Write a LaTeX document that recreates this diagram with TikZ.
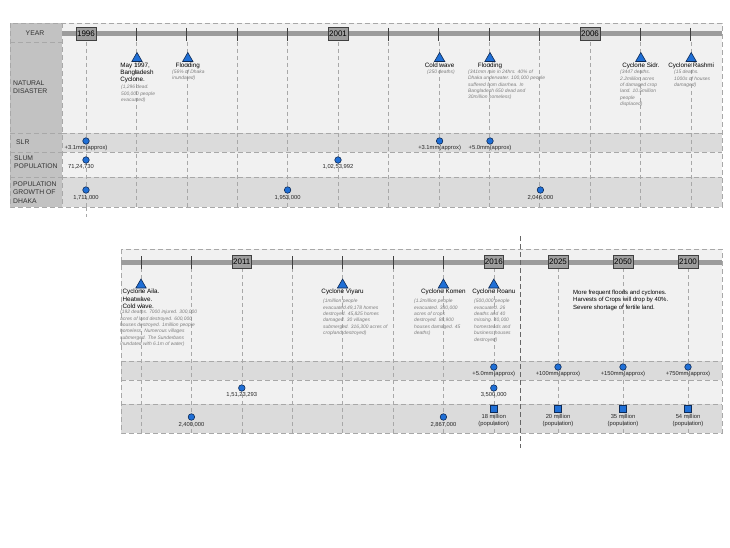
\documentclass[tikz,border=0pt]{standalone}
\usepackage{fontspec}
\setmainfont{Liberation Sans}
\usetikzlibrary{shapes.geometric,positioning}
\definecolor{labelgray}{HTML}{C2C2C2}
\definecolor{bandlight}{HTML}{F1F1F1}
\definecolor{banddark}{HTML}{DBDBDB}
\definecolor{linegray}{HTML}{A8A8A8}
\definecolor{bargray}{HTML}{9C9C9C}
\definecolor{markblue}{HTML}{1F6FD6}
\definecolor{markedge}{HTML}{0E2A55}
\definecolor{descgray}{HTML}{7E7E7E}
\tikzset{gridline/.style={linegray,dash pattern=on 4pt off 3pt,line width=0.5pt},
    cellline/.style={linegray,dash pattern=on 5pt off 3pt,line width=0.8pt},
    yearbox/.style={draw=black!75,fill=black!38,line width=0.8pt,inner sep=1pt,
        minimum height=13pt,font=\fontsize{8}{8}\selectfont},
    rowlabel/.style={align=left,anchor=west,inner sep=0pt,text=black!80,
        font=\fontsize{6.8}{8.6}\selectfont},
    eventmark/.style={regular polygon,regular polygon sides=3,draw=markedge,fill=markblue,
        minimum size=12pt,inner sep=0pt,line width=0.6pt},
    eventtitle/.style={align=left,inner sep=0pt,font=\fontsize{6.3}{7.3}\selectfont},
    eventdesc/.style={align=left,anchor=north west,inner sep=0pt,text=descgray,
        font=\fontsize{4.9}{6.4}\selectfont\itshape},
    datadot/.style={circle,draw=markedge,fill=markblue,minimum size=6.5pt,inner sep=0pt,line width=0.6pt},
    datasq/.style={rectangle,draw=markedge,fill=markblue,minimum size=6.5pt,inner sep=0pt,line width=0.6pt},
    datalabel/.style={align=center,anchor=north,inner sep=0pt,text=black!85,
        font=\fontsize{5.8}{7}\selectfont},
    }
\begin{document}
\begin{tikzpicture}[x=1pt,y=-1pt]
\useasboundingbox (0,0) rectangle (730,548);
% upper panel: 1996--2008
\fill[bandlight] (62,23) rectangle (722,133);
\fill[banddark] (62,133) rectangle (722,152);
\fill[bandlight] (62,152) rectangle (722,177);
\fill[banddark] (62,177) rectangle (722,207);
\fill[labelgray] (10,23) rectangle (62,207);
\foreach \i in {0,...,12} \draw[gridline] ({86+50.4*\i},42) -- ++(0,165);
\draw[gridline] (86,207) -- ++(0,10);
\foreach \y in {42,133,152,177} \draw[cellline] (10,\y) -- (62,\y);
\foreach \y in {133,152,177} \draw[cellline] (62,\y) -- (722,\y);
\draw[cellline] (62,23) -- (62,207);
\draw[cellline] (10,23) rectangle (722,207);
\fill[bargray] (62,31.5) rectangle (722,36.5);
\foreach \i in {1,2,3,4,6,7,8,9,11,12} \draw[black!75,line width=0.7pt] ({86+50.4*\i},28) -- ++(0,13);
\node[yearbox] (y1996) at (86,34) {1996};
\node[yearbox] (y2001) at (338,34) {2001};
\node[yearbox] (y2006) at (590,34) {2006};
% row labels
\node[rowlabel,anchor=center] (lyear) at (35,33) {YEAR};
\node[rowlabel] (lnat) at (13,87) {NATURAL\\DISASTER};
\node[rowlabel] (lslr) at (16,142) {SLR};
\node[rowlabel] (lslum) at (14,162) {SLUM\\POPULATION};
\node[rowlabel] (lpop) at (13,192.5) {POPULATION\\GROWTH OF\\DHAKA};
% natural disasters
\node[eventmark] (m1997) at (137,58.5) {};
\node[eventtitle,below=0.8pt of m1997] (t1997) {May 1997,\\Bangladesh\\Cyclone.};
\node[eventdesc] (d1997) at (121,85) {(1,296 dead.\\500,000 people\\evacuated)};
\node[eventmark] (m1998) at (187.8,58.5) {};
\node[eventtitle,below=0.8pt of m1998] (t1998) {Flooding};
\node[eventdesc] (d1998) at (172,69.5) {(56\% of Dhaka\\inundated)};
\node[eventmark] (m2003) at (439.6,58.5) {};
\node[eventtitle,below=0.8pt of m2003] (t2003) {Cold wave};
\node[eventdesc] (d2003) at (427,69.5) {(250 deaths)};
\node[eventmark] (m2004) at (490,58.5) {};
\node[eventtitle,below=0.8pt of m2004] (t2004) {Flooding};
\node[eventdesc] (d2004) at (468,69.5) {(341mm rain in 24hrs. 40\% of\\Dhaka underwater. 100,000 people\\suffered from diarrhea. In\\Bangladesh 650 dead and\\30million homeless)};
\node[eventmark] (m2007) at (640.8,58.5) {};
\node[eventtitle,below=0.8pt of m2007] (t2007) {Cyclone Sidr.};
\node[eventdesc] (d2007) at (620,70) {(3447 deaths.\\2.2million acres\\of damaged crop\\land. 10.5million\\people\\displaced)};
\node[eventmark] (m2008) at (691.2,58.5) {};
\node[eventtitle,below=0.8pt of m2008] (t2008) {Cyclone Rashmi};
\node[eventdesc] (d2008) at (674,70) {(15 deaths.\\1000s of houses\\damaged)};
% sea level rise, slums, population
\node[datadot] (s1996) at (86,141) {};
\node[datalabel,below=1pt of s1996] {+3.1mm(approx)};
\node[datadot] (s2003) at (439.6,141) {};
\node[datalabel,below=1pt of s2003] {+3.1mm(approx)};
\node[datadot] (s2004) at (490,141) {};
\node[datalabel,below=1pt of s2004] {+5.0mm(approx)};
\node[datadot] (u1996) at (86,160) {};
\node[datalabel,below=0.5pt of u1996,xshift=-5pt] {71,24,730};
\node[datadot] (u2001) at (338,160) {};
\node[datalabel,below=0.5pt of u2001] {1,02,53,992};
\node[datadot] (p1996) at (86,190) {};
\node[datalabel,below=2pt of p1996] {1,711,000};
\node[datadot] (p2000) at (287.6,190) {};
\node[datalabel,below=2pt of p2000] {1,953,000};
\node[datadot] (p2005) at (540.4,190) {};
\node[datalabel,below=2pt of p2005] {2,046,000};

% lower panel: 2009--2100
\fill[bandlight] (121,249) rectangle (722,361);
\fill[banddark] (121,361) rectangle (722,380);
\fill[bandlight] (121,380) rectangle (722,404);
\fill[banddark] (121,404) rectangle (722,433);
\foreach \x in {141,191.4,241.8,292.2,342.6,393,443.4,493.8,558,623,688}
    \draw[gridline] (\x,268) -- (\x,433);
\foreach \y in {361,380,404} \draw[cellline] (121,\y) -- (722,\y);
\draw[cellline] (121,249) rectangle (722,433);
\fill[bargray] (121,259.5) rectangle (722,264.5);
\foreach \x in {141,191.4,292.2,342.6,393,443.4} \draw[black!75,line width=0.7pt] (\x,256) -- ++(0,13);
\node[yearbox] (y2011) at (241.8,262) {2011};
\node[yearbox] (y2016) at (493.8,262) {2016};
\node[yearbox] (y2025) at (558,262) {2025};
\node[yearbox] (y2050) at (623,262) {2050};
\node[yearbox] (y2100) at (688,262) {2100};
\coordinate (divtop) at (520,236);
\coordinate (divbot) at (520,448);
\draw[black!60,dash pattern=on 5pt off 3pt,line width=0.7pt] (divtop) -- (divbot);
% natural disasters
\node[eventmark] (m2009) at (141,285) {};
\node[eventtitle,below=0.8pt of m2009] (t2009) {Cyclone Aila.\\Heatwave.\\Cold wave.};
\node[eventdesc] (d2009) at (120,310) {(192 deaths. 7000 injured. 300,000\\acres of land destroyed. 600,000\\houses destroyed. 1million people\\homeless. Numerous villages\\submerged. The Sunderbans\\inundated with 6.1m of water)};
\node[eventmark] (m2013) at (342.6,285) {};
\node[eventtitle,below=0.8pt of m2013] (t2013) {Cyclone Viyaru};
\node[eventdesc] (d2013) at (323,299) {(1million people\\evacuated.49,178 homes\\destroyed. 45,825 homes\\damaged. 30 villages\\submerged. 316,300 acres of\\cropland destroyed)};
\node[eventmark] (m2015) at (443.4,285) {};
\node[eventtitle,below=0.8pt of m2015] (t2015) {Cyclone Komen};
\node[eventdesc] (d2015) at (414,299) {(1.2million people\\evacuated. 380,000\\acres of crops\\destroyed. 88,900\\houses damaged. 45\\deaths)};
\node[eventmark] (m2016) at (493.8,285) {};
\node[eventtitle,below=0.8pt of m2016] (t2016) {Cyclone Roanu};
\node[eventdesc] (d2016) at (474,299) {(500,000 people\\evacuated. 26\\deaths and 40\\missing. 40,000\\homesteads and\\business houses\\destroyed)};
\node[eventtitle,anchor=north west,font=\fontsize{6}{7.6}\selectfont] (future) at (573,289.5)
    {More frequent floods and cyclones.\\Harvests of Crops will drop by 40\%.\\Severe shortage of fertile land.};
% sea level rise, slums, population
\node[datadot] (s2016) at (493.8,367) {};
\node[datalabel,below=1pt of s2016] {+5.0mm(approx)};
\node[datadot] (s2025) at (558,367) {};
\node[datalabel,below=1pt of s2025] {+100mm(approx)};
\node[datadot] (s2050) at (623,367) {};
\node[datalabel,below=1pt of s2050] {+150mm(approx)};
\node[datadot] (s2100) at (688,367) {};
\node[datalabel,below=1pt of s2100] {+750mm(approx)};
\node[datadot] (u2011) at (241.8,388) {};
\node[datalabel,below=0.5pt of u2011] {1,51,23,293};
\node[datadot] (u2016) at (493.8,388) {};
\node[datalabel,below=0.5pt of u2016] {3,500,000};
\node[datadot] (p2010) at (191.4,417) {};
\node[datalabel,below=2pt of p2010] {2,400,000};
\node[datadot] (p2015) at (443.4,417) {};
\node[datalabel,below=2pt of p2015] {2,867,000};
\node[datasq] (p2016) at (493.8,409) {};
\node[datalabel,below=2pt of p2016] {18 million\\(population)};
\node[datasq] (p2025) at (558,409) {};
\node[datalabel,below=2pt of p2025] {20 million\\(population)};
\node[datasq] (p2050) at (623,409) {};
\node[datalabel,below=2pt of p2050] {35 million\\(population)};
\node[datasq] (p2100) at (688,409) {};
\node[datalabel,below=2pt of p2100] {54 million\\(population)};
\end{tikzpicture}
\end{document}
